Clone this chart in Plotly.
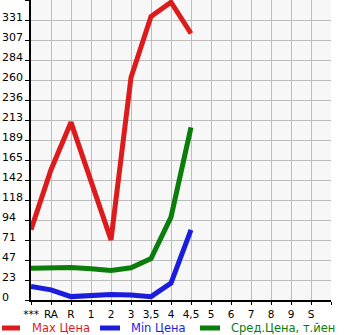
import plotly.graph_objects as go

categories = ["***", "RA", "R", "1", "2", "3", "3,5", "4", "4,5", "5", "6", "7", "8", "9", "S"]
max_price = [83, 154, 210, 142, 71, 263, 335, 352, 315]
min_price = [16, 12, 4, 5, 6.5, 6, 4, 20, 83]
avg_price = [37.5, 37.5, 38.5, 37, 35, 38, 49, 98, 204]
y_ticks = [0, 23, 47, 71, 94, 118, 142, 165, 189, 213, 236, 260, 284, 307, 331]
y_step = 23.64
series_names = ["Max Цена", "Min Цена", "Сред.Цена, т.йен"]
colors = ["#dc1c1c", "#1c1cdc", "#0a7d0a"]

W, H = 345, 335
L, R, T, B = 31, 14, 0, 35
pw, ph = W - L - R, H - T - B

fig = go.Figure()
xs = list(range(len(categories)))
for vals, name, col in zip([max_price, min_price, avg_price], series_names, colors):
    fig.add_trace(go.Scatter(
        x=xs[:len(vals)], y=vals, mode="lines", name=name,
        line=dict(color=col, width=5), showlegend=False, hoverinfo="skip"))

tickvals_y = [i * y_step for i in range(len(y_ticks) + 1)]
fig.update_yaxes(
    range=[0, len(y_ticks) * y_step], tickvals=tickvals_y, showticklabels=False,
    showgrid=True, gridcolor="#bdbdbd", gridwidth=1,
    showline=True, linecolor="black", linewidth=2,
    ticks="outside", ticklen=4, tickcolor="black", tickwidth=1,
    zeroline=False, fixedrange=True)
fig.update_xaxes(
    range=[0, len(categories)], tickvals=list(range(len(categories) + 1)),
    ticktext=categories + [""],
    showgrid=True, gridcolor="#bdbdbd", gridwidth=1,
    showline=True, linecolor="black", linewidth=2,
    ticks="outside", ticklen=3, tickcolor="black", tickwidth=1,
    tickfont=dict(family="DejaVu Sans", size=10.5, color="black"),
    zeroline=False, fixedrange=True)

annotations = []
for v, lab in zip(tickvals_y, y_ticks):
    annotations.append(dict(
        x=-L / pw, y=v, xref="paper", yref="y", text=str(lab), showarrow=False,
        xanchor="left", yanchor="middle", yshift=3,
        font=dict(family="DejaVu Sans", size=11, color="black")))

shapes = []
leg_y = (300 - 328) / ph
leg_items = [(0, 22, 30), (98, 122, 129), (198, 222, 229)]
for (x0, x1, tx), name, col in zip(leg_items, series_names, colors):
    shapes.append(dict(type="line", xref="paper", yref="paper",
                       x0=(x0 + 2 - L) / pw, x1=(x1 - 2 - L) / pw, y0=leg_y, y1=leg_y,
                       line=dict(color=col, width=5)))
    annotations.append(dict(
        x=(tx - L) / pw, y=leg_y, xref="paper", yref="paper", text=name,
        showarrow=False, xanchor="left", yanchor="middle",
        font=dict(family="DejaVu Sans", size=11.5, color=col)))

fig.update_layout(
    width=W, height=H, margin=dict(l=L, r=R, t=T, b=B, pad=0),
    paper_bgcolor="white", plot_bgcolor="#f7f7f7",
    annotations=annotations, shapes=shapes, showlegend=False)

fig.write_html("out.html", config={"displayModeBar": False})
